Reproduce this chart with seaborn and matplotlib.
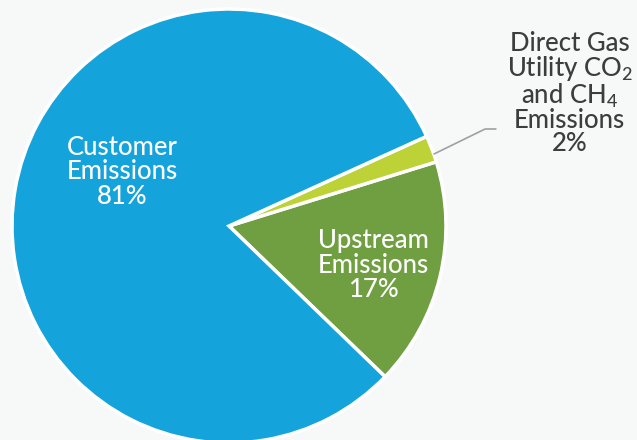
import matplotlib
matplotlib.use("Agg")
import matplotlib.pyplot as plt
import seaborn as sns

labels = ["Upstream\nEmissions\n17%", "", "Customer\nEmissions\n81%"]
shares = [17, 2, 81]
colors = ["#6f9f40", "#bcd236", "#14a3db"]
outer_label = "Direct Gas\nUtility CO$_2$\nand CH$_4$\nEmissions\n2%"

sns.set_style("white")
plt.rcParams["font.family"] = ["Lato", "DejaVu Sans"]
plt.rcParams["mathtext.fontset"] = "custom"
plt.rcParams["mathtext.rm"] = "Lato:medium"
plt.rcParams["mathtext.it"] = "Lato:medium"

bg = "#f7f9f8"
fig = plt.figure(figsize=(6.37, 4.40), dpi=100, facecolor=bg)
ax = fig.add_axes([0, 0, 1, 1])
ax.set_facecolor(bg)

ax.pie(shares, colors=colors, startangle=-44, counterclock=True,
       radius=1.0, wedgeprops=dict(edgecolor="white", linewidth=2.5))

fs = 18.5
# inside labels
ax.text(-0.493, 0.249, labels[2], ha="center", va="center", color="white",
        fontsize=fs, fontweight="medium", linespacing=0.97)
ax.text(0.664, -0.18, labels[0], ha="center", va="center", color="white",
        fontsize=fs, fontweight="medium", linespacing=0.97)

# outside label with leader line
ax.text(1.57, 0.61, outer_label, ha="center", va="center", color="#3d3d3d",
        fontsize=fs, fontweight="medium", linespacing=0.92)
ax.plot([0.945, 1.18, 1.23], [0.332, 0.447, 0.447], color="#a0a0a0", lw=1.2)

ax.set_xlim(-229 / 217, (637 - 229) / 217)
ax.set_ylim(-214 / 217, 226 / 217)
ax.set_aspect("auto")
ax.axis("off")

fig.savefig("out.png", dpi=100, facecolor=bg)
